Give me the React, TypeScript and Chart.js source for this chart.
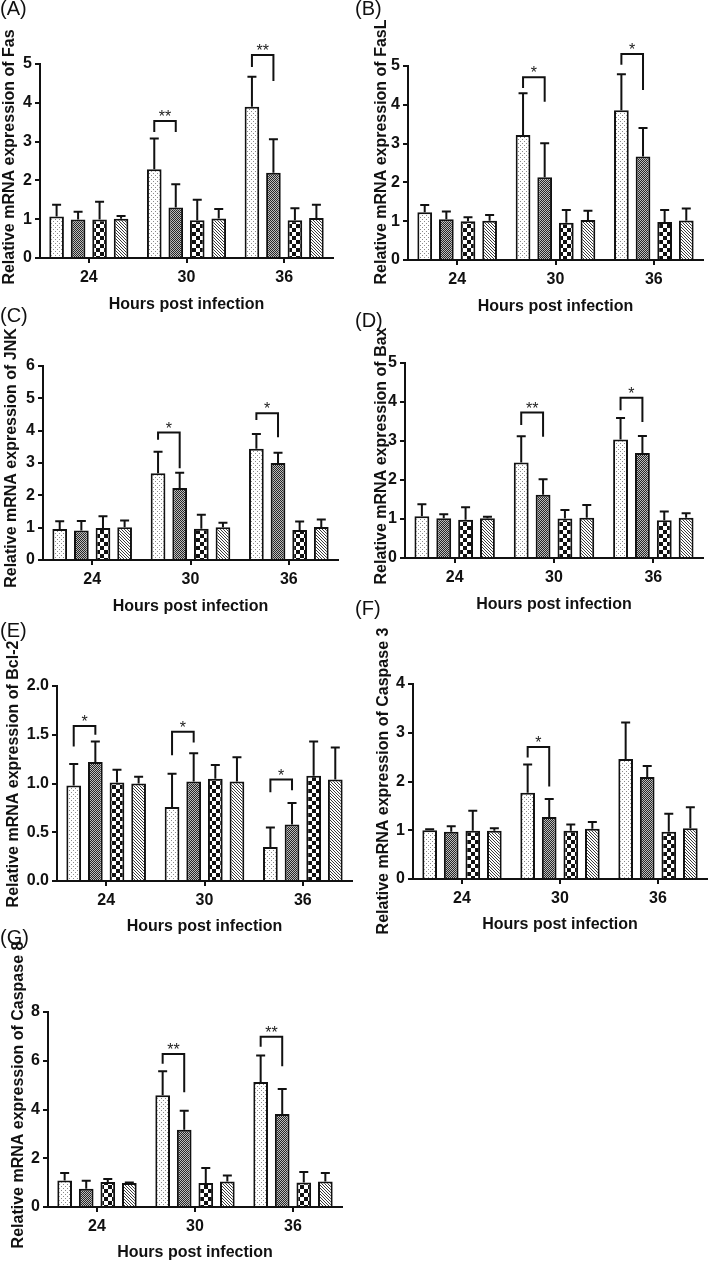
import React, { useEffect, useRef } from 'react';
import { Chart, registerables } from 'chart.js';

Chart.register(...registerables);

const FONT = '"Liberation Sans", Arial, Helvetica, sans-serif';
const INK = '#111111';

// Categories (hours post infection) and the four groups
const HOURS = ['24', '30', '36'];
const SERIES = ['Group 1', 'Group 2', 'Group 3', 'Group 4'];

// Each *_MEAN / *_UPPER: one row per group, columns = 24 / 30 / 36 h
// (A) Fas
const FAS_MEAN = [[1.07, 2.29, 3.90], [0.99, 1.30, 2.20], [0.99, 0.97, 0.97], [1.01, 1.02, 1.03]];
const FAS_UPPER = [[1.37, 3.08, 4.67], [1.19, 1.90, 3.06], [1.45, 1.50, 1.28], [1.08, 1.26, 1.37]];
const FAS_SIG = [
  { cat: 1, top: 3.53, left: 3.25, right: 3.25, text: '**' },
  { cat: 2, top: 5.23, left: 4.92, right: 4.56, text: '**' },
];

// (B) FasL
const FASL_MEAN = [[1.23, 3.22, 3.86], [1.05, 2.13, 2.67], [1.00, 0.96, 0.98], [1.01, 1.03, 1.02]];
const FASL_UPPER = [[1.42, 4.30, 4.79], [1.25, 3.01, 3.40], [1.10, 1.29, 1.29], [1.16, 1.27, 1.33]];
const FASL_SIG = [
  { cat: 1, top: 4.71, left: 4.43, right: 4.08, text: '*' },
  { cat: 2, top: 5.31, left: 5.03, right: 4.38, text: '*' },
];

// (C) JNK
const JNK_MEAN = [[0.96, 2.68, 3.44], [0.91, 2.23, 3.00], [0.99, 0.97, 0.93], [1.01, 1.01, 1.02]];
const JNK_UPPER = [[1.20, 3.35, 3.90], [1.21, 2.70, 3.32], [1.35, 1.40, 1.19], [1.22, 1.15, 1.25]];
const JNK_SIG = [
  { cat: 1, top: 3.94, left: 3.72, right: 2.84, text: '*' },
  { cat: 2, top: 4.54, left: 4.33, right: 3.80, text: '*' },
];

// (D) Bax
const BAX_MEAN = [[1.07, 2.45, 3.04], [1.02, 1.62, 2.69], [0.98, 1.01, 0.97], [1.02, 1.03, 1.03]];
const BAX_UPPER = [[1.38, 3.12, 3.59], [1.12, 2.02, 3.13], [1.30, 1.23, 1.19], [1.06, 1.36, 1.15]];
const BAX_SIG = [
  { cat: 1, top: 3.73, left: 3.41, right: 3.11, text: '**' },
  { cat: 2, top: 4.11, left: 3.79, right: 3.49, text: '*' },
];

// (E) Bcl-2
const BCL2_MEAN = [[0.98, 0.76, 0.35], [1.22, 1.02, 0.58], [1.01, 1.05, 1.08], [1.00, 1.02, 1.04]];
const BCL2_UPPER = [[1.20, 1.10, 0.55], [1.43, 1.31, 0.80], [1.14, 1.19, 1.43], [1.07, 1.27, 1.37]];
const BCL2_SIG = [
  { cat: 0, top: 1.59, left: 1.38, right: 1.50, text: '*' },
  { cat: 1, top: 1.53, left: 1.29, right: 1.42, text: '*' },
  { cat: 2, top: 1.04, left: 0.91, right: 0.93, text: '*' },
];

// (F) Caspase 3
const CASP3_MEAN = [[1.00, 1.77, 2.46], [0.97, 1.27, 2.09], [0.99, 0.99, 0.97], [0.99, 1.03, 1.04]];
const CASP3_UPPER = [[1.02, 2.35, 3.21], [1.08, 1.64, 2.32], [1.40, 1.12, 1.34], [1.04, 1.17, 1.47]];
const CASP3_SIG = [{ cat: 1, top: 2.71, left: 2.49, right: 1.90, text: '*' }];

// (G) Caspase 8
const CASP8_MEAN = [[1.09, 4.58, 5.13], [0.75, 3.17, 3.82], [1.03, 0.98, 1.01], [0.98, 1.05, 1.05]];
const CASP8_UPPER = [[1.40, 5.57, 6.22], [1.08, 3.95, 4.84], [1.15, 1.60, 1.44], [1.01, 1.29, 1.40]];
const CASP8_SIG = [
  { cat: 1, top: 6.28, left: 5.88, right: 4.71, text: '**' },
  { cat: 2, top: 6.98, left: 6.57, right: 5.77, text: '**' },
];

type Sig = { cat: number; top: number; left: number; right: number; text: string };
type Panel = {
  letter: string;
  yLabel: string;
  mean: number[][];
  upper: number[][];
  sig: Sig[];
  max: number;
  step: number;
  decimals: number;
  box: { x: number; y: number; w: number; h: number };
  axisX: number;
  rightX: number;
  topY: number;
  zeroY: number;
  yTitle: { x: number; y: number };
  xTitleY: number;
  letterPos: { x: number; y: number };
};

const PANELS: Panel[] = [
  {
    letter: '(A)', yLabel: 'Relative mRNA expression of Fas', mean: FAS_MEAN, upper: FAS_UPPER, sig: FAS_SIG,
    max: 5, step: 1, decimals: 0, box: { x: 0, y: 0, w: 355, h: 318 },
    axisX: 40, rightX: 333, topY: 64, zeroY: 258, yTitle: { x: 10, y: 157 }, xTitleY: 305, letterPos: { x: 0, y: -2 },
  },
  {
    letter: '(B)', yLabel: 'Relative mRNA expression of FasL', mean: FASL_MEAN, upper: FASL_UPPER, sig: FASL_SIG,
    max: 5, step: 1, decimals: 0, box: { x: 355, y: 0, w: 356, h: 320 },
    axisX: 408, rightX: 703, topY: 66, zeroY: 260, yTitle: { x: 382, y: 152 }, xTitleY: 307, letterPos: { x: 355, y: -2 },
  },
  {
    letter: '(C)', yLabel: 'Relative mRNA expression of JNK', mean: JNK_MEAN, upper: JNK_UPPER, sig: JNK_SIG,
    max: 6, step: 1, decimals: 0, box: { x: 0, y: 318, w: 355, h: 302 },
    axisX: 43, rightX: 338, topY: 366, zeroY: 560, yTitle: { x: 12, y: 458 }, xTitleY: 607, letterPos: { x: 0, y: 305 },
  },
  {
    letter: '(D)', yLabel: 'Relative mRNA expression of Bax', mean: BAX_MEAN, upper: BAX_UPPER, sig: BAX_SIG,
    max: 5, step: 1, decimals: 0, box: { x: 355, y: 318, w: 356, h: 300 },
    axisX: 405, rightX: 703, topY: 363, zeroY: 558, yTitle: { x: 382, y: 456 }, xTitleY: 605, letterPos: { x: 355, y: 310 },
  },
  {
    letter: '(E)', yLabel: 'Relative mRNA expression of Bcl-2', mean: BCL2_MEAN, upper: BCL2_UPPER, sig: BCL2_SIG,
    max: 2, step: 0.5, decimals: 1, box: { x: 0, y: 625, w: 355, h: 315 },
    axisX: 57, rightX: 352, topY: 686, zeroY: 881, yTitle: { x: 14, y: 774 }, xTitleY: 927, letterPos: { x: 0, y: 620 },
  },
  {
    letter: '(F)', yLabel: 'Relative mRNA expression of Caspase 3', mean: CASP3_MEAN, upper: CASP3_UPPER, sig: CASP3_SIG,
    max: 4, step: 1, decimals: 0, box: { x: 355, y: 600, w: 356, h: 340 },
    axisX: 413, rightX: 707, topY: 684, zeroY: 879, yTitle: { x: 384, y: 781 }, xTitleY: 925, letterPos: { x: 355, y: 598 },
  },
  {
    letter: '(G)', yLabel: 'Relative mRNA expression of Caspase 8', mean: CASP8_MEAN, upper: CASP8_UPPER, sig: CASP8_SIG,
    max: 8, step: 2, decimals: 0, box: { x: 0, y: 925, w: 355, h: 341 },
    axisX: 48, rightX: 342, topY: 1012, zeroY: 1207, yTitle: { x: 19, y: 1095 }, xTitleY: 1253, letterPos: { x: 0, y: 927 },
  },
];

function makePattern(kind: number): CanvasPattern | string {
  const c = document.createElement('canvas');
  const g = c.getContext('2d');
  if (!g) return '#ffffff';
  if (kind === 0) {
    c.width = 4; c.height = 4;
    g.fillStyle = '#ffffff'; g.fillRect(0, 0, 4, 4);
    g.fillStyle = '#8a8a8a'; g.fillRect(1, 1, 1, 1); g.fillRect(3, 3, 1, 1);
  } else if (kind === 1) {
    c.width = 2; c.height = 2;
    g.fillStyle = '#bdbdbd'; g.fillRect(0, 0, 2, 2);
    g.fillStyle = '#262626'; g.fillRect(0, 0, 1, 1); g.fillRect(1, 1, 1, 1);
  } else if (kind === 2) {
    c.width = 8; c.height = 8;
    g.fillStyle = '#ffffff'; g.fillRect(0, 0, 8, 8);
    g.fillStyle = '#111111'; g.fillRect(0, 0, 4, 4); g.fillRect(4, 4, 4, 4);
  } else {
    c.width = 3; c.height = 3;
    g.fillStyle = '#ffffff'; g.fillRect(0, 0, 3, 3);
    g.fillStyle = '#3a3a3a';
    for (let i = 0; i < 3; i++) g.fillRect(i, i, 1, 1);
  }
  return g.createPattern(c, 'repeat') || '#ffffff';
}

function decorPlugin(p: Panel) {
  return {
    id: 'decor',
    afterDatasetsDraw(chart: any) {
      const ctx: CanvasRenderingContext2D = chart.ctx;
      const ys = chart.scales.y;
      ctx.save();
      ctx.strokeStyle = INK;
      ctx.lineWidth = 2;
      // error bars (upper only)
      for (let s = 0; s < SERIES.length; s++) {
        const meta = chart.getDatasetMeta(s);
        meta.data.forEach((el: any, c: number) => {
          const x = el.x;
          const y0 = el.y;
          const y1 = ys.getPixelForValue(p.upper[s][c]);
          ctx.beginPath();
          ctx.moveTo(x, y0);
          ctx.lineTo(x, y1);
          ctx.moveTo(x - 4.5, y1);
          ctx.lineTo(x + 4.5, y1);
          ctx.stroke();
        });
      }
      // significance brackets
      ctx.fillStyle = '#222222';
      ctx.font = `16px ${FONT}`;
      ctx.textAlign = 'center';
      ctx.textBaseline = 'alphabetic';
      p.sig.forEach((b) => {
        const x1 = chart.getDatasetMeta(0).data[b.cat].x;
        const x2 = chart.getDatasetMeta(1).data[b.cat].x;
        const yt = ys.getPixelForValue(b.top);
        const yl = ys.getPixelForValue(b.left);
        const yr = ys.getPixelForValue(b.right);
        ctx.beginPath();
        ctx.moveTo(x1, yl);
        ctx.lineTo(x1, yt);
        ctx.lineTo(x2, yt);
        ctx.lineTo(x2, yr);
        ctx.stroke();
        ctx.fillText(b.text, (x1 + x2) / 2, yt + 1);
      });
      // y-axis title
      ctx.translate(p.yTitle.x - p.box.x, p.yTitle.y - p.box.y);
      ctx.rotate(-Math.PI / 2);
      ctx.font = `bold 16px ${FONT}`;
      ctx.fillStyle = INK;
      ctx.textAlign = 'center';
      ctx.textBaseline = 'middle';
      ctx.fillText(p.yLabel, 0, 0);
      ctx.restore();
    },
  };
}

function PanelChart({ p }: { p: Panel }) {
  const ref = useRef<HTMLCanvasElement>(null);
  useEffect(() => {
    const canvas = ref.current;
    if (!canvas) return;
    const { box } = p;
    const yWidth = p.axisX - box.x;
    const padTop = p.topY - box.y;
    const padRight = box.x + box.w - p.rightX;
    const padBottom = box.h - (p.xTitleY - box.y) - 9.6;
    const xHeight = box.h - padBottom - (p.zeroY - box.y);
    const tickFont = { family: FONT, size: 16, weight: 'bold' as const };
    const datasets = SERIES.map((label, i) => ({
      label,
      data: p.mean[i],
      backgroundColor: makePattern(i) as any,
      borderColor: INK,
      borderWidth: 2,
      borderSkipped: 'start' as const,
      categoryPercentage: 0.88,
      barPercentage: 0.68,
    }));
    const chart = new Chart(canvas, {
      type: 'bar',
      data: { labels: HOURS, datasets },
      options: {
        responsive: false,
        animation: false,
        layout: { padding: { left: 0, top: padTop, right: padRight, bottom: padBottom } },
        plugins: { legend: { display: false }, tooltip: { enabled: false } },
        scales: {
          x: {
            type: 'category',
            offset: true,
            grid: { offset: false, drawOnChartArea: false, drawTicks: true, tickLength: 5, lineWidth: 2, color: INK },
            border: { display: true, color: INK, width: 2 },
            ticks: { color: INK, padding: 5, font: tickFont, maxRotation: 0 },
            title: { display: true, text: 'Hours post infection', color: INK, padding: 0, font: tickFont },
            afterFit: (s: any) => { s.height = xHeight; },
          },
          y: {
            min: 0,
            max: p.max,
            grid: { drawOnChartArea: false, drawTicks: true, tickLength: 5, lineWidth: 2, color: INK },
            border: { display: true, color: INK, width: 2 },
            ticks: {
              stepSize: p.step,
              color: INK,
              padding: 3,
              font: tickFont,
              autoSkip: false,
              callback: (v: any) => Number(v).toFixed(p.decimals),
            },
            afterFit: (s: any) => { s.width = yWidth; },
          },
        },
      },
      plugins: [decorPlugin(p)],
    } as any);
    return () => chart.destroy();
  }, [p]);
  return (
    <canvas
      ref={ref}
      width={p.box.w}
      height={p.box.h}
      style={{ position: 'absolute', left: p.box.x, top: p.box.y, width: p.box.w, height: p.box.h }}
    />
  );
}

export default function App() {
  return (
    <div style={{ position: 'absolute', left: 0, top: 0, width: 711, height: 1266, background: '#ffffff', overflow: 'hidden' }}>
      {PANELS.map((p) => (
        <PanelChart key={p.letter} p={p} />
      ))}
      {PANELS.map((p) => (
        <div
          key={'l' + p.letter}
          style={{
            position: 'absolute', left: p.letterPos.x, top: p.letterPos.y, font: `20px ${FONT}`,
            lineHeight: '20px', color: INK, whiteSpace: 'nowrap',
          }}
        >
          {p.letter}
        </div>
      ))}
    </div>
  );
}
